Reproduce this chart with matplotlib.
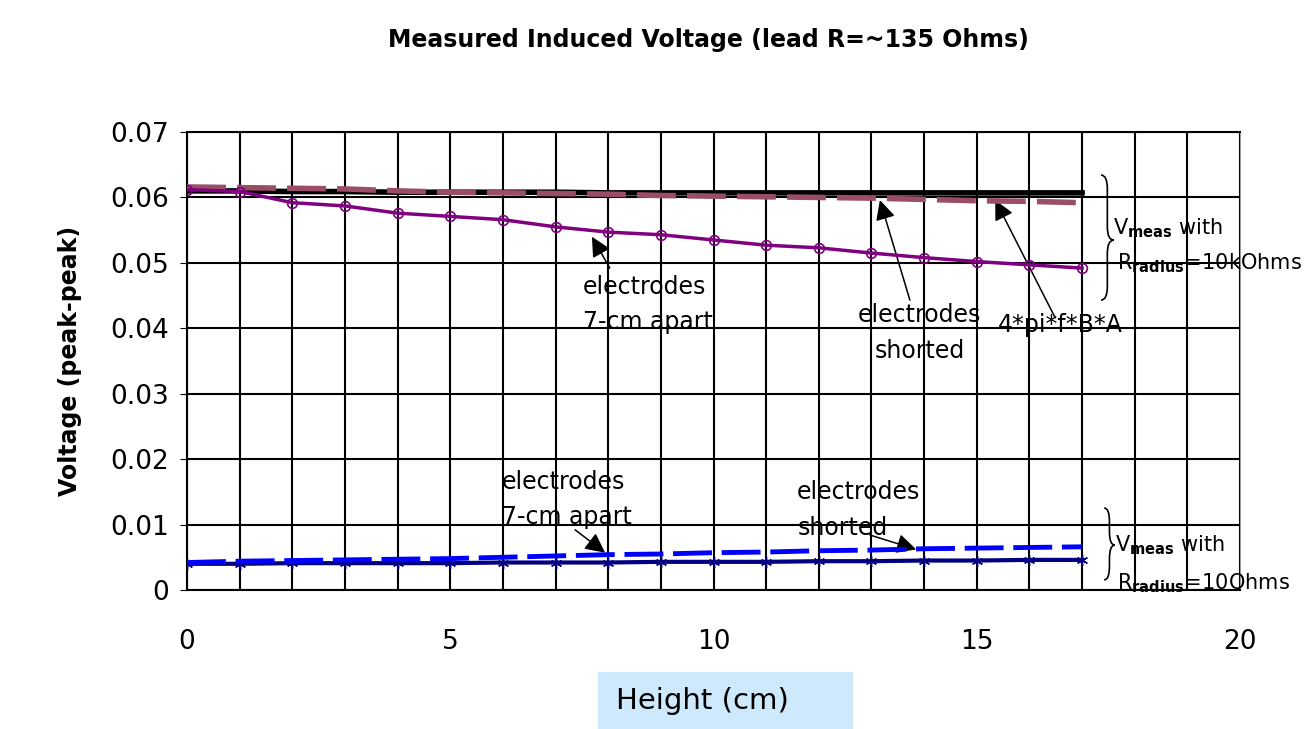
import matplotlib
matplotlib.use("Agg")
import matplotlib.pyplot as plt
from matplotlib.path import Path
from matplotlib.patches import PathPatch, Rectangle

plt.rcParams['font.family'] = ['DejaVu Sans']
plt.rcParams['mathtext.default'] = 'regular'

# heights (cm)
height = list(range(18))

# R = 10 kOhm series
shorted_10k = [0.0610, 0.0610, 0.0609, 0.0609, 0.0608, 0.0608, 0.0608, 0.0608, 0.0607,
               0.0607, 0.0607, 0.0607, 0.0607, 0.0607, 0.0607, 0.0607, 0.0607, 0.0607]
theory_4pifBA = [0.0616, 0.0615, 0.0614, 0.0613, 0.0610, 0.0608, 0.0607, 0.0606, 0.0605,
                 0.0603, 0.0602, 0.0601, 0.0600, 0.0599, 0.0597, 0.0595, 0.0594, 0.0592]
apart_10k = [0.0612, 0.0609, 0.0592, 0.0587, 0.0576, 0.0571, 0.0566, 0.0555, 0.0547,
             0.0543, 0.0535, 0.0527, 0.0523, 0.0515, 0.0508, 0.0502, 0.0497, 0.0492]

# R = 10 Ohm series
apart_10 = [0.0042, 0.0044, 0.0045, 0.0046, 0.0047, 0.0048, 0.0050, 0.0052, 0.0054,
            0.0055, 0.0057, 0.0058, 0.0060, 0.0061, 0.0063, 0.0064, 0.0065, 0.0066]
shorted_10 = [0.0040, 0.0040, 0.0041, 0.0041, 0.0041, 0.0041, 0.0042, 0.0042, 0.0042,
              0.0043, 0.0043, 0.0043, 0.0044, 0.0044, 0.0045, 0.0045, 0.0046, 0.0046]

fig = plt.figure(figsize=(13.09, 7.29), dpi=100)
ax = fig.add_axes([0.1429, 0.1907, 0.8044, 0.6282])

ax.plot(height, shorted_10k, color='black', lw=4, zorder=3)
ax.plot(height, theory_4pifBA, color='#994D66', lw=4, dashes=(7, 2), zorder=4)
ax.plot(height, apart_10k, color='#800080', lw=2.5, marker='o', ms=7,
        mfc='none', mec='#800080', mew=1.2, zorder=5)
ax.plot(height, shorted_10, color='#000080', lw=3, marker=(6, 2, 0), ms=8,
        mec='#000080', mew=1.0, zorder=3)
ax.plot(height, apart_10, color='#0000FF', lw=3.5, dashes=(8, 2), zorder=4)

ax.set_xlim(0, 20)
ax.set_ylim(0, 0.07)
ax.set_xticks([0, 5, 10, 15, 20])
ax.set_xticks(range(21), minor=True)
ax.set_yticks([0, 0.01, 0.02, 0.03, 0.04, 0.05, 0.06, 0.07])
ax.set_yticklabels(['0', '0.01', '0.02', '0.03', '0.04', '0.05', '0.06', '0.07'])
ax.grid(True, which='both', color='black', lw=1.5)
ax.set_axisbelow(True)
ax.tick_params(axis='y', labelsize=19, length=5, pad=8)
ax.tick_params(axis='x', which='major', labelsize=19, length=0, pad=28)
ax.tick_params(axis='x', which='minor', length=0)
for s in ['left', 'bottom', 'top']:
    ax.spines[s].set_color('black')
    ax.spines[s].set_linewidth(1.5)
ax.spines['right'].set_color('#999999')

ax.set_ylabel('Voltage (peak-peak)', fontsize=17, fontweight='bold', labelpad=20)
fig.suptitle('Measured Induced Voltage (lead R=~135 Ohms)', fontsize=17,
             fontweight='bold', x=0.541, y=0.962)

# x label in light blue box
fig.patches.append(Rectangle((598 / 1309, 0), 255 / 1309, 57 / 729,
                             transform=fig.transFigure, facecolor='#CDE9FB',
                             edgecolor='none'))
fig.text(616 / 1309, 28 / 729, 'Height (cm)', fontsize=21, ha='left', va='center')

arrow = dict(arrowstyle='-|>', color='black', lw=1.1, mutation_scale=30,
             shrinkA=0, shrinkB=0)
fs = 17
fs_side = 15

# upper annotations
ax.text(7.52, 0.0436, 'electrodes\n7-cm apart', fontsize=fs, ha='left', va='center',
        linespacing=1.6)
ax.annotate('', xy=(7.69, 0.0540), xytext=(8.03, 0.0492), arrowprops=arrow)
ax.text(13.92, 0.0393, 'electrodes\nshorted', fontsize=fs, ha='center', va='center',
        linespacing=1.6)
ax.annotate('', xy=(13.16, 0.0596), xytext=(13.73, 0.0443), arrowprops=arrow)
ax.text(15.40, 0.0405, '4*pi*f*B*A', fontsize=fs, ha='left', va='center')
ax.annotate('', xy=(15.35, 0.0596), xytext=(16.49, 0.0416), arrowprops=arrow)

# lower annotations
ax.text(5.98, 0.0138, 'electrodes\n7-cm apart', fontsize=fs, ha='left', va='center',
        linespacing=1.6)
ax.annotate('', xy=(7.94, 0.0057), xytext=(7.37, 0.0092), arrowprops=arrow)
ax.text(11.59, 0.0122, 'electrodes\nshorted', fontsize=fs, ha='left', va='center',
        linespacing=1.6)
ax.annotate('', xy=(13.85, 0.0062), xytext=(12.97, 0.0084), arrowprops=arrow)


def brace(x0, x1, x2, ytop, ymid, ybot):
    d = 0.03
    verts = [(x0, ytop), (x1, ytop), (x1, ytop - d),
             (x1, ymid + d),
             (x1, ymid), (x2, ymid),
             (x1, ymid), (x1, ymid - d),
             (x1, ybot + d),
             (x1, ybot), (x0, ybot)]
    codes = [Path.MOVETO, Path.CURVE3, Path.CURVE3,
             Path.LINETO,
             Path.CURVE3, Path.CURVE3,
             Path.CURVE3, Path.CURVE3,
             Path.LINETO,
             Path.CURVE3, Path.CURVE3]
    ax.add_patch(PathPatch(Path(verts, codes), facecolor='none', edgecolor='black',
                           lw=1.2, transform=ax.transAxes, clip_on=False))


brace(0.868, 0.874, 0.880, 0.906, 0.764, 0.633)
brace(0.871, 0.876, 0.881, 0.179, 0.098, 0.022)

ax.text(0.879, 0.790, r'V$_{\mathbf{meas}}$ with', fontsize=fs_side,
        transform=ax.transAxes, ha='left', va='center', clip_on=False)
ax.text(0.883, 0.714, r'R$_{\mathbf{radius}}$=10kOhms', fontsize=fs_side,
        transform=ax.transAxes, ha='left', va='center', clip_on=False)
ax.text(0.881, 0.098, r'V$_{\mathbf{meas}}$ with', fontsize=fs_side,
        transform=ax.transAxes, ha='left', va='center', clip_on=False)
ax.text(0.883, 0.015, r'R$_{\mathbf{radius}}$=10Ohms', fontsize=fs_side,
        transform=ax.transAxes, ha='left', va='center', clip_on=False)

fig.savefig('out.png', dpi=100)
